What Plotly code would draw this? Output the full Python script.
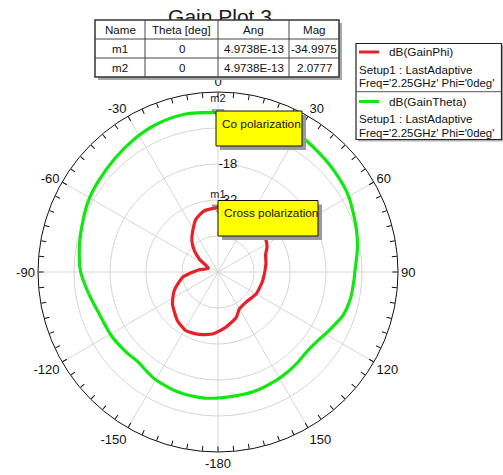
import plotly.graph_objects as go

# ---------------- data ----------------
green_theta = [-180, -174, -162, -149, -138, -132, -121, -108, -99, -90, -82, -74, -62, -53, -42, -32, -23, -12,
               0, 12, 22, 31.6, 39.7, 49.3, 59.4, 72.5, 80.3, 85, 90, 93, 102, 109, 114, 119, 125, 132, 139, 145,
               151.5, 163.6, 176, 180]
green_db = [-11.0, -10.7, -10.8, -11.7, -13.2, -12.7, -11.7, -10.8, -8.9, -6.6, -5.5, -4.5, -2.6, -1.6, -0.3, 1.1, 2.2, 2.7,
            2.0777, 2.7, 2.4, 1.8, 0.8, -0.15, -1.2, -3.6, -5.0, -6.0, -6.8, -7.0, -7.5, -8.5, -10.1, -11.5, -13.0, -13.6, -13.1, -12.6,
            -12.2, -11.5, -11.2, -11.0]

red_theta = [-180, -175, -163, -151, -140, -125, -113, -98, -84, -69, -56, -48, -40, -31.5, -22.5, -12.6,
             0, 10, 25, 40, 55, 63, 70, 80.5, 101, 120, 137, 150, 158, 172, 180]
red_db = [-36.8, -35.8, -34.6, -34.0, -35.4, -38.4, -41.5, -46.3, -52.3, -56.0, -51.6, -47.6, -44.2, -41.2, -37.7, -35.6,
          -34.9975, -35.0, -35.5, -36.5, -37.4, -38.6, -40.3, -41.1, -42.3, -42.9, -44.0, -43.4, -41.0, -38.3, -36.8]

marker_names = ["m1", "m2"]
marker_theta = [0, 0]
marker_ang = ["4.9738E-13", "4.9738E-13"]
marker_mag = [-34.9975, 2.0777]

table_header = ["Name", "Theta [deg]", "Ang", "Mag"]

radial_ticks = [-46, -32, -18, -4]
radial_labels = ["", "-32", "-18", ""]
radial_range = [-60, 10]
spoke_angles = list(range(0, 360, 30))
minor_angles = list(range(0, 360, 5))

legend_entries = [
    ("dB(GainPhi)", "Setup1 : LastAdaptive", "Freq='2.25GHz' Phi='0deg'"),
    ("dB(GainTheta)", "Setup1 : LastAdaptive", "Freq='2.25GHz' Phi='0deg'"),
]
note_texts = ["Co polarization", "Cross polarization"]

RED = "#e8202a"
GREEN = "#10e810"
GRID = "#d6d6d6"
FONT = "Liberation Sans, Arial, sans-serif"

W, H = 503, 475
def px(x):
    return x / W
def py(y):
    return 1 - y / H

fig = go.Figure()

# spokes (angular grid)
for a in spoke_angles:
    fig.add_trace(go.Scatterpolar(r=radial_range, theta=[a, a], mode="lines",
                                  line=dict(color=GRID, width=1), hoverinfo="skip", showlegend=False))

fig.add_trace(go.Scatterpolar(r=green_db, theta=green_theta, mode="lines",
                              line=dict(color=GREEN, width=3.2, shape="spline", smoothing=0.8),
                              name="dB(GainTheta)", showlegend=False))
fig.add_trace(go.Scatterpolar(r=red_db, theta=red_theta, mode="lines",
                              line=dict(color=RED, width=3.2, shape="spline", smoothing=0.6),
                              name="dB(GainPhi)", showlegend=False))
fig.add_trace(go.Scatterpolar(r=marker_mag, theta=marker_theta, mode="markers+text",
                              text=marker_names, textposition="top center",
                              textfont=dict(size=11, color="#222", family=FONT),
                              marker=dict(symbol="triangle-down-open", size=10, color="#666", line=dict(width=1)),
                              showlegend=False, hoverinfo="skip"))

def ang_label(a):
    if a % 30:
        return ""
    return str(a if a <= 150 else a - 360)

fig.update_layout(
    width=W, height=H, margin=dict(l=0, r=0, t=0, b=0),
    paper_bgcolor="white", plot_bgcolor="white",
    font=dict(family=FONT, color="#111"),
    polar=dict(
        domain=dict(x=[px(38), px(398)], y=[py(452), py(92)]),
        bgcolor="white",
        angularaxis=dict(rotation=90, direction="clockwise", tickmode="array",
                         tickvals=minor_angles, ticktext=[ang_label(a) for a in minor_angles],
                         ticks="inside", ticklen=5, tickcolor="#111", linecolor="#111", linewidth=1,
                         showgrid=False, tickfont=dict(size=13, color="#111", family=FONT)),
        radialaxis=dict(range=radial_range, tickmode="array", tickvals=radial_ticks, ticktext=radial_labels,
                        angle=90, tickangle=90, showline=False, ticks="", gridcolor=GRID, gridwidth=1,
                        tickfont=dict(size=13, color="#111", family=FONT)),
    ),
)

shapes = []
annotations = []

# title (as shape label so table box covers it)
shapes.append(dict(type="rect", xref="paper", yref="paper", x0=px(150), x1=px(290), y0=py(28), y1=py(0),
                   line=dict(width=0), fillcolor="rgba(0,0,0,0)",
                   label=dict(text="Gain Plot 3", font=dict(size=21, color="#1a1a1a", family=FONT),
                              textposition="middle center")))

# marker table
col_x = [95, 145, 218, 289, 339]
row_y = [20, 39, 58, 77]
shapes.append(dict(type="rect", xref="paper", yref="paper", x0=px(col_x[0] + 3), x1=px(col_x[-1] + 3),
                   y0=py(row_y[-1] + 3), y1=py(row_y[0] + 3), line=dict(width=0), fillcolor="#a8a8a8"))
shapes.append(dict(type="rect", xref="paper", yref="paper", x0=px(col_x[0]), x1=px(col_x[-1]),
                   y0=py(row_y[-1]), y1=py(row_y[0]), line=dict(width=1.5, color="#333"), fillcolor="white"))
for x in col_x[1:-1]:
    shapes.append(dict(type="line", xref="paper", yref="paper", x0=px(x), x1=px(x), y0=py(row_y[-1]), y1=py(row_y[0]),
                       line=dict(width=1, color="#444")))
for y in row_y[1:-1]:
    shapes.append(dict(type="line", xref="paper", yref="paper", x0=px(col_x[0]), x1=px(col_x[-1]), y0=py(y), y1=py(y),
                       line=dict(width=1, color="#444")))
rows = [table_header] + [[n, str(t), a, f"{m:.4f}"] for n, t, a, m in zip(marker_names, marker_theta, marker_ang, marker_mag)]
for ri, row in enumerate(rows):
    yc = (row_y[ri] + row_y[ri + 1]) / 2
    for ci, txt in enumerate(row):
        xc = (col_x[ci] + col_x[ci + 1]) / 2
        annotations.append(dict(x=px(xc), y=py(yc), xref="paper", yref="paper", text=txt, showarrow=False,
                                xanchor="center", yanchor="middle", font=dict(size=11.6, color="#111", family=FONT)))

# legend box
shapes.append(dict(type="rect", xref="paper", yref="paper", x0=px(358), x1=px(503), y0=py(141.5), y1=py(45),
                   line=dict(width=0), fillcolor="#b0b0b0"))
shapes.append(dict(type="rect", xref="paper", yref="paper", x0=px(356), x1=px(501.5), y0=py(139.5), y1=py(43.5),
                   line=dict(width=1.2, color="#222"), fillcolor="white"))
shapes.append(dict(type="line", xref="paper", yref="paper", x0=px(356), x1=px(501.5), y0=py(91.7), y1=py(91.7),
                   line=dict(width=1, color="#555")))
for i, (entry, col) in enumerate(zip(legend_entries, [RED, GREEN])):
    y0 = 52 + i * 49.5
    shapes.append(dict(type="line", xref="paper", yref="paper", x0=px(359), x1=px(379), y0=py(y0), y1=py(y0),
                       line=dict(width=3, color=col)))
    annotations.append(dict(x=px(387), y=py(y0), xref="paper", yref="paper", text=entry[0], showarrow=False,
                            xanchor="left", yanchor="middle", font=dict(size=11.8, color="#111", family=FONT)))
    annotations.append(dict(x=px(357), y=py(y0 + 17), xref="paper", yref="paper", text=entry[1], showarrow=False,
                            xanchor="left", yanchor="middle", font=dict(size=11.6, color="#111", family=FONT)))
    annotations.append(dict(x=px(357), y=py(y0 + 31.5), xref="paper", yref="paper", text=entry[2], showarrow=False,
                            xanchor="left", yanchor="middle", font=dict(size=11.4, color="#111", family=FONT)))

# note boxes
boxes = [(216, 111, 302, 146, 123.5), (218, 200.5, 318, 236, 213.5)]
for (x0, y0, x1, y1, yt), txt in zip(boxes, note_texts):
    shapes.append(dict(type="rect", xref="paper", yref="paper", x0=px(x0 + 4), x1=px(x1 + 4), y0=py(y1 + 4), y1=py(y0 + 4),
                       line=dict(width=0), fillcolor="#9a9a9a"))
    shapes.append(dict(type="rect", xref="paper", yref="paper", x0=px(x0), x1=px(x1), y0=py(y1), y1=py(y0),
                       line=dict(width=1, color="#111"), fillcolor="#ffff00"))
    annotations.append(dict(x=px(x0 + 4), y=py(yt), xref="paper", yref="paper", text=txt, showarrow=False,
                            xanchor="left", yanchor="middle", font=dict(size=11.8, color="#111", family=FONT)))

fig.update_layout(shapes=shapes, annotations=annotations)
fig.write_html("out.html", config={"displayModeBar": False},
               post_script="document.body.style.margin='0';document.body.style.overflow='hidden';")
